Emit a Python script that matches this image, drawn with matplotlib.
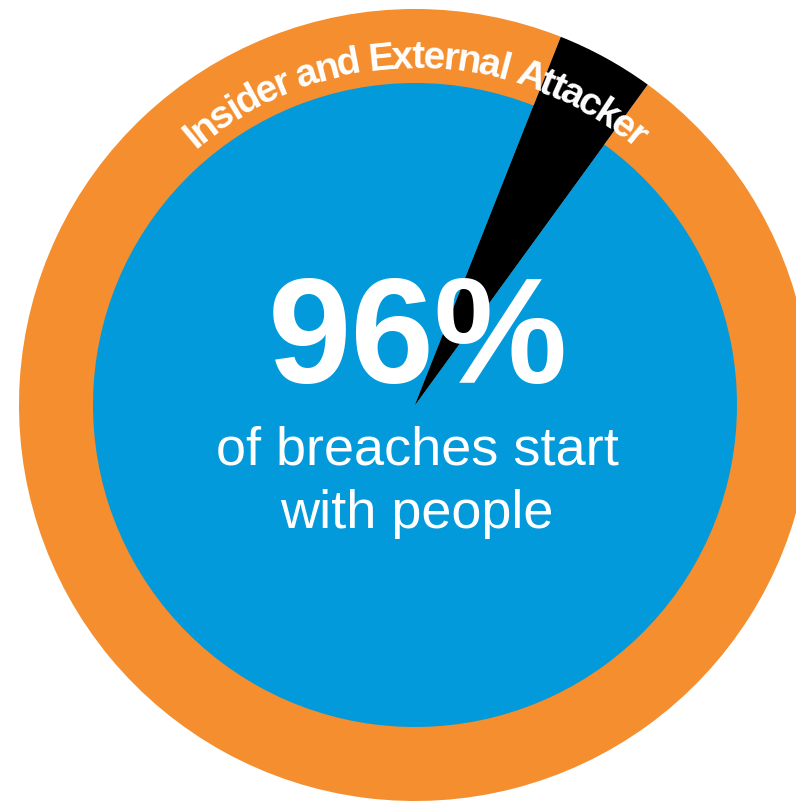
import numpy as np
import matplotlib
matplotlib.use("Agg")
import matplotlib.pyplot as plt
from matplotlib import font_manager
from matplotlib.font_manager import FontProperties

# Share of breaches (people vs. other)
share_labels = ['Start with people', 'Other']
share_values = [96, 4]
ring_label = 'Insider and External Attacker'
caption_lines = ['of breaches start', 'with people']

ORANGE = '#F48E2E'
BLUE = '#029ADA'
BLACK = '#000000'

W, H = 796, 804
fig = plt.figure(figsize=(W / 100, H / 100), dpi=100)
ax = fig.add_axes([0, 0, 1, 1])

cx, cy = 415, 398
r_outer, r_inner = 396, 322

# outer ring + inner disc, both cut by the black wedge
ax.pie(share_values, colors=[ORANGE, BLACK], radius=r_outer, center=(cx, cy),
       startangle=54, counterclock=False, wedgeprops=dict(linewidth=0))
ax.pie(share_values, colors=[BLUE, BLACK], radius=r_inner, center=(cx, cy),
       startangle=54, counterclock=False, wedgeprops=dict(linewidth=0))

ax.set_xlim(0, W)
ax.set_ylim(0, H)
ax.set_aspect('equal')
ax.axis('off')

# big number + caption
ax.text(418, 421, f"{share_values[0]}%", color='white', fontsize=108,
        fontweight='bold', family='Liberation Sans', ha='center', va='baseline')
ax.text(417, 339, caption_lines[0], color='white', fontsize=39,
        family='Liberation Sans', ha='center', va='baseline')
ax.text(417, 276, caption_lines[1], color='white', fontsize=39,
        family='Liberation Sans', ha='center', va='baseline')

# curved label along the ring
names = {f.name for f in font_manager.fontManager.ttflist}
narrow = 'Liberation Sans Narrow' in names
ring_family = 'Liberation Sans Narrow' if narrow else 'Liberation Sans'
prop = FontProperties(family=ring_family, weight='bold', size=30 if narrow else 28)
renderer = fig.canvas.get_renderer()


def text_w(s):
    # sentinel keeps trailing spaces counted
    w1 = renderer.get_text_width_height_descent(s + '|', prop, ismath=False)[0]
    w0 = renderer.get_text_width_height_descent('|', prop, ismath=False)[0]
    return w1 - w0


R = 338
span_deg = 81.0
total = text_w(ring_label)
scale = (np.radians(span_deg) * R) / total
for i, ch in enumerate(ring_label):
    if ch == ' ':
        continue
    mid = text_w(ring_label[:i]) + text_w(ch) / 2
    theta = (mid - total / 2) * scale / R
    x = cx + R * np.sin(theta)
    y = cy + R * np.cos(theta)
    ax.text(x, y, ch, fontproperties=prop, color='white', ha='center',
            va='baseline', rotation=-np.degrees(theta), rotation_mode='anchor',
            zorder=5)

fig.savefig('out.png', dpi=100)
